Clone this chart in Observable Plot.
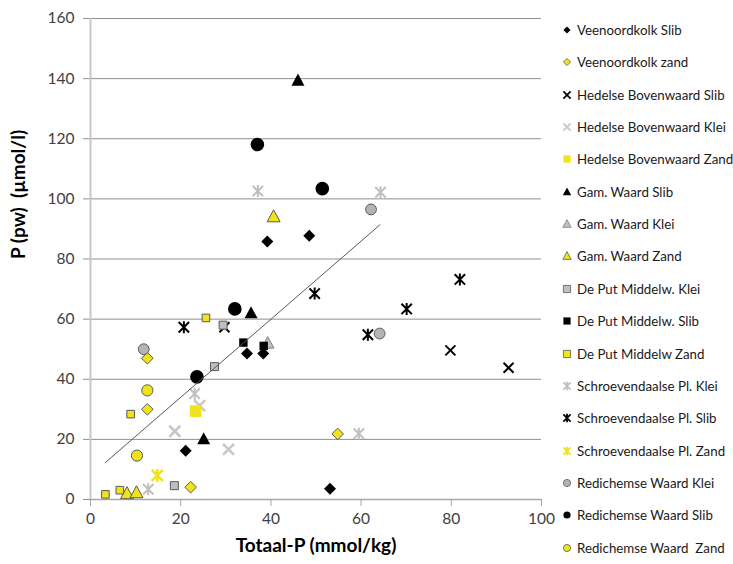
<!DOCTYPE html>
<html><head><meta charset="utf-8">
<script src="https://cdn.jsdelivr.net/npm/d3@7"></script>
<script src="https://cdn.jsdelivr.net/npm/@observablehq/plot@0.6"></script>
<style>
body{margin:0;background:#fff;}
#wrap{position:relative;width:733px;height:564px;font-family:Lato,"Open Sans",sans-serif;overflow:hidden;}
#chart svg text{white-space:pre;}
.item{position:absolute;left:560px;height:18px;display:flex;align-items:center;font-size:13.3px;color:#1a1a1a;white-space:pre;}
.item svg{margin-right:3px;}
</style></head><body>
<div id="wrap"><div id="chart"></div></div>
<script>
// ---- data ----
const seriesNames = [
  "Veenoordkolk Slib", "Veenoordkolk zand", "Hedelse Bovenwaard Slib", "Hedelse Bovenwaard Klei",
  "Hedelse Bovenwaard Zand", "Gam. Waard Slib", "Gam. Waard Klei", "Gam. Waard Zand",
  "De Put Middelw. Klei", "De Put Middelw. Slib", "De Put Middelw Zand", "Schroevendaalse Pl. Klei",
  "Schroevendaalse Pl. Slib", "Schroevendaalse Pl. Zand", "Redichemse Waard Klei", "Redichemse Waard Slib",
  "Redichemse Waard  Zand"
];
const seriesX = [
  [39.2, 48.5, 34.7, 38.3, 21.1, 53.1],
  [12.6, 12.6, 22.2, 54.8],
  [29.7, 79.8, 92.7],
  [24.2, 18.7, 30.6],
  [23.3],
  [46.0, 35.6, 25.1],
  [39.3],
  [40.6, 8.1, 10.2],
  [29.4, 27.5, 18.6],
  [33.9, 38.4],
  [25.6, 8.9, 3.3, 6.5],
  [37.1, 64.3, 59.5, 23.1, 12.8],
  [20.7, 49.7, 81.9, 70.1, 61.5],
  [14.8],
  [11.8, 62.2, 64.1],
  [37.0, 51.4, 32.0, 23.6],
  [12.6, 10.3]
];
const seriesY = [
  [85.8, 87.7, 48.6, 48.6, 16.2, 3.6],
  [47.0, 30.0, 4.1, 21.8],
  [57.3, 49.6, 43.8],
  [31.2, 22.7, 16.7],
  [29.4],
  [139.4, 62.0, 20.1],
  [52.0],
  [94.1, 2.0, 2.3],
  [58.0, 44.2, 4.6],
  [52.2, 51.1],
  [60.4, 28.4, 1.7, 3.1],
  [102.6, 102.2, 21.9, 35.2, 3.4],
  [57.3, 68.5, 73.2, 63.4, 54.8],
  [8.0],
  [50.0, 96.5, 55.2],
  [118.1, 103.4, 63.4, 40.8],
  [36.3, 14.6]
];
const trendX = [3.3, 64.2];
const trendY = [12.3, 91.4];
const xTicks = [0, 20, 40, 60, 80, 100];
const yTicks = [0, 20, 40, 60, 80, 100, 120, 140, 160];
const xTitle = "Totaal-P (mmol/kg)";
const yTitle = "P (pw)  (µmol/l)";

// ---- styles ----
const YEL = "#f0e31a", EDGE = "#595959";
const styles = [
  {shape: "diamond", fill: "#000", stroke: "none", sw: 0, r: 6},
  {shape: "diamond", fill: YEL, stroke: EDGE, sw: 1, r: 5.8},
  {shape: "times", fill: "none", stroke: "#000", sw: 2, r: 5},
  {shape: "times", fill: "none", stroke: "#c8c8c8", sw: 2.6, r: 5.5},
  {shape: "square", fill: YEL, stroke: "none", sw: 0, r: 5.8},
  {shape: "triangle", fill: "#000", stroke: "none", sw: 0, r: 6.5},
  {shape: "triangle", fill: "#bfbfbf", stroke: "#7f7f7f", sw: 1, r: 6.2},
  {shape: "triangle", fill: YEL, stroke: EDGE, sw: 1, r: 6.5},
  {shape: "square", fill: "#bfbfbf", stroke: EDGE, sw: 1, r: 4},
  {shape: "square", fill: "#000", stroke: "none", sw: 0, r: 4.2},
  {shape: "square", fill: YEL, stroke: EDGE, sw: 1, r: 3.8},
  {shape: "star", fill: "none", stroke: "#bfbfbf", sw: 2, r: 5.2},
  {shape: "star", fill: "none", stroke: "#000", sw: 2, r: 5.2},
  {shape: "star", fill: "none", stroke: YEL, sw: 2.6, r: 5.5},
  {shape: "circle", fill: "#b4b4b4", stroke: EDGE, sw: 1, r: 5.4},
  {shape: "circle", fill: "#000", stroke: "none", sw: 0, r: 6.8},
  {shape: "circle", fill: YEL, stroke: EDGE, sw: 1, r: 5.6}
];

function drawShape(ctx, shape, r) {
  switch (shape) {
    case "diamond":
      ctx.moveTo(0, -r); ctx.lineTo(r, 0); ctx.lineTo(0, r); ctx.lineTo(-r, 0); ctx.closePath(); break;
    case "square":
      ctx.moveTo(-r, -r); ctx.lineTo(r, -r); ctx.lineTo(r, r); ctx.lineTo(-r, r); ctx.closePath(); break;
    case "triangle":
      ctx.moveTo(0, -r * 1.05); ctx.lineTo(r, r * 0.8); ctx.lineTo(-r, r * 0.8); ctx.closePath(); break;
    case "circle":
      ctx.moveTo(r, 0); ctx.arc(0, 0, r, 0, 2 * Math.PI); ctx.closePath(); break;
    case "times":
      ctx.moveTo(-r, -r); ctx.lineTo(r, r); ctx.moveTo(-r, r); ctx.lineTo(r, -r); break;
    case "star":
      ctx.moveTo(-r, -r); ctx.lineTo(r, r); ctx.moveTo(-r, r); ctx.lineTo(r, -r);
      ctx.moveTo(0, -r * 1.15); ctx.lineTo(0, r * 1.15); break;
  }
}
function symbolOf(shape) {
  return {draw(ctx, size) { drawShape(ctx, shape, Math.sqrt(size / Math.PI)); }};
}

const dotMarks = seriesNames.map((name, i) => {
  const s = styles[i];
  const idx = d3.range(seriesX[i].length);
  return Plot.dot(idx, {
    x: j => seriesX[i][j], y: j => seriesY[i][j],
    symbol: symbolOf(s.shape), r: s.r,
    fill: s.fill, stroke: s.stroke, strokeWidth: s.sw
  });
});

const chart = Plot.plot({
  width: 560, height: 564,
  marginLeft: 90, marginRight: 19, marginTop: 18, marginBottom: 65,
  x: {domain: [0, 100]},
  y: {domain: [0, 160]},
  style: {fontFamily: "Lato, 'Open Sans', sans-serif", fontSize: "15px", color: "#404040", overflow: "visible"},
  marks: [
    Plot.gridY(yTicks.filter(v => v > 0), {stroke: "#8f8f8f", strokeOpacity: 1, strokeWidth: 1}),
    Plot.axisY({ticks: yTicks, tickSize: 7, tickPadding: 9, stroke: "#8f8f8f", label: null, fontSize: 15.5}),
    Plot.axisX({ticks: xTicks, tickSize: 7, tickPadding: 6, stroke: "#a6a6a6", label: null, fontSize: 15.5}),
    Plot.ruleY([0], {stroke: "#a6a6a6", strokeWidth: 1.3}),
    Plot.ruleX([0], {stroke: "#c8c8c8", strokeWidth: 2}),
    ...dotMarks,
    Plot.line(d3.range(trendX.length), {x: j => trendX[j], y: j => trendY[j], stroke: "#595959", strokeWidth: 1}),
    Plot.text([xTitle], {frameAnchor: "bottom", dy: 52, fontWeight: "bold", fontSize: 19, fill: "#000"}),
    Plot.text([yTitle], {frameAnchor: "left", dx: -72, rotate: -90, fontWeight: "bold", fontSize: 19, fill: "#000"})
  ]
});
document.getElementById("chart").appendChild(chart);

// ---- legend ----
const wrap = document.getElementById("wrap");
seriesNames.forEach((name, i) => {
  const s = styles[i];
  const item = document.createElement("div");
  item.className = "item";
  item.style.top = (30 + i * 32.35 - 9) + "px";
  const lr = s.shape === "triangle" ? 4.2 : 3.6;
  const p = d3.path();
  drawShape(p, s.shape, lr);
  const svg = d3.create("svg").attr("width", 14).attr("height", 14).attr("viewBox", "-7 -7 14 14");
  svg.append("path").attr("d", p.toString())
    .attr("fill", s.fill).attr("stroke", s.stroke)
    .attr("stroke-width", s.stroke === "none" ? 0 : (s.shape === "times" || s.shape === "star" ? 1.8 : 0.8));
  item.appendChild(svg.node());
  const t = document.createElement("span");
  t.textContent = name;
  item.appendChild(t);
  wrap.appendChild(item);
});
</script>
</body></html>
